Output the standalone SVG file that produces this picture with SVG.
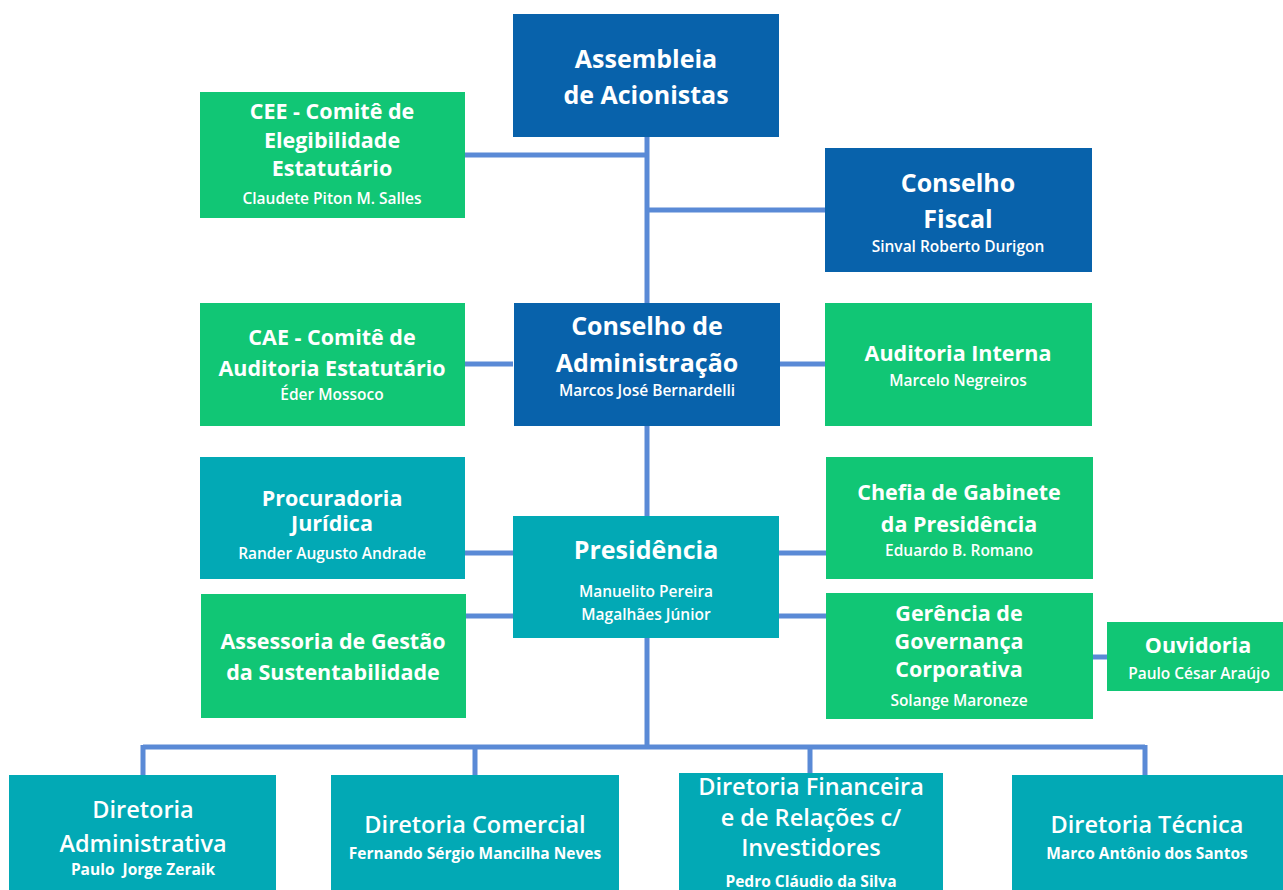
<svg xmlns="http://www.w3.org/2000/svg" width="1283" height="890" viewBox="0 0 1283 890">
<style>
.blue{fill:#0862AB}
.green{fill:#11C675}
.teal{fill:#02A9B5}
text{font-family:"Open Sans","Noto Sans","Liberation Sans",sans-serif;fill:#ffffff;text-anchor:middle}
.t1{font-size:25px;font-weight:700}
.t2{font-size:21.5px;font-weight:700}
.t3{font-size:23.5px;font-weight:600}
.s{font-size:15.5px;font-weight:600}
.sb{font-size:15.5px;font-weight:700}
.conn{stroke:#5A8AD6;stroke-width:5;fill:none}
</style>
<rect width="1283" height="890" fill="#ffffff"/>
<g id="connectors" class="conn">
<path d="M647 136V745"/>
<path d="M465 155H647"/>
<path d="M647 210H825"/>
<path d="M465 364H513M779 364H825"/>
<path d="M465 553H513M779 553H826"/>
<path d="M466 616H513M779 616H826"/>
<path d="M1093 657H1107"/>
<path d="M143 747H1145M143 745V775M475 745V775M810 745V773M1145 745V775"/>
</g>
<g id="assembleia">
<rect class="blue" x="513" y="14" width="266" height="123"/>
<text class="t1" x="646" y="68">Assembleia</text>
<text class="t1" x="646" y="104">de Acionistas</text>
</g>
<g id="cee">
<rect class="green" x="200" y="92" width="265" height="126"/>
<text class="t2" x="332" y="119">CEE - Comitê de</text>
<text class="t2" x="332" y="148">Elegibilidade</text>
<text class="t2" x="332" y="176">Estatutário</text>
<text class="s" x="332" y="204">Claudete Piton M. Salles</text>
</g>
<g id="conselho-fiscal">
<rect class="blue" x="825" y="148" width="267" height="124"/>
<text class="t1" x="958" y="192">Conselho</text>
<text class="t1" x="958" y="228">Fiscal</text>
<text class="s" x="958" y="252">Sinval Roberto Durigon</text>
</g>
<g id="cae">
<rect class="green" x="200" y="303" width="265" height="123"/>
<text class="t2" x="332" y="345">CAE - Comitê de</text>
<text class="t2" x="332" y="376">Auditoria Estatutário</text>
<text class="s" x="332" y="400">Éder Mossoco</text>
</g>
<g id="conselho-administracao">
<rect class="blue" x="514" y="303" width="266" height="123"/>
<text class="t1" x="647" y="335">Conselho de</text>
<text class="t1" x="647" y="372">Administração</text>
<text class="s" x="647" y="396">Marcos José Bernardelli</text>
</g>
<g id="auditoria-interna">
<rect class="green" x="825" y="303" width="267" height="123"/>
<text class="t2" x="958" y="361">Auditoria Interna</text>
<text class="s" x="958" y="386">Marcelo Negreiros</text>
</g>
<g id="procuradoria">
<rect class="teal" x="200" y="457" width="265" height="122"/>
<text class="t2" x="332" y="506">Procuradoria</text>
<text class="t2" x="332" y="531">Jurídica</text>
<text class="s" x="332" y="559">Rander Augusto Andrade</text>
</g>
<g id="presidencia">
<rect class="teal" x="513" y="516" width="266" height="122"/>
<text class="t1" x="646" y="559">Presidência</text>
<text class="s" x="646" y="597">Manuelito Pereira</text>
<text class="s" x="646" y="620">Magalhães Júnior</text>
</g>
<g id="chefia-gabinete">
<rect class="green" x="826" y="457" width="267" height="122"/>
<text class="t2" x="959" y="500">Chefia de Gabinete</text>
<text class="t2" x="959" y="532">da Presidência</text>
<text class="s" x="959" y="556">Eduardo B. Romano</text>
</g>
<g id="assessoria">
<rect class="green" x="201" y="594" width="265" height="124"/>
<text class="t2" x="333" y="649">Assessoria de Gestão</text>
<text class="t2" x="333" y="680">da Sustentabilidade</text>
</g>
<g id="gerencia-governanca">
<rect class="green" x="826" y="593" width="267" height="126"/>
<text class="t2" x="959" y="621">Gerência de</text>
<text class="t2" x="959" y="649">Governança</text>
<text class="t2" x="959" y="677">Corporativa</text>
<text class="s" x="959" y="706">Solange Maroneze</text>
</g>
<g id="ouvidoria">
<rect class="green" x="1107" y="622" width="176" height="69"/>
<text class="t2" x="1198" y="653">Ouvidoria</text>
<text class="s" x="1199" y="679">Paulo César Araújo</text>
</g>
<g id="diretoria-administrativa">
<rect class="teal" x="9" y="775" width="267" height="115"/>
<text class="t3" x="143" y="818">Diretoria</text>
<text class="t3" x="143" y="852">Administrativa</text>
<text class="sb" x="143" y="875" xml:space="preserve">Paulo  Jorge Zeraik</text>
</g>
<g id="diretoria-comercial">
<rect class="teal" x="331" y="775" width="288" height="115"/>
<text class="t3" x="475" y="833">Diretoria Comercial</text>
<text class="sb" x="475" y="859">Fernando Sérgio Mancilha Neves</text>
</g>
<g id="diretoria-financeira">
<rect class="teal" x="679" y="773" width="264" height="117"/>
<text class="t3" x="811" y="795">Diretoria Financeira</text>
<text class="t3" x="811" y="826">e de Relações c/</text>
<text class="t3" x="811" y="856">Investidores</text>
<text class="sb" x="811" y="887">Pedro Cláudio da Silva</text>
</g>
<g id="diretoria-tecnica">
<rect class="teal" x="1012" y="775" width="271" height="115"/>
<text class="t3" x="1147" y="833">Diretoria Técnica</text>
<text class="sb" x="1147" y="859">Marco Antônio dos Santos</text>
</g>
</svg>
